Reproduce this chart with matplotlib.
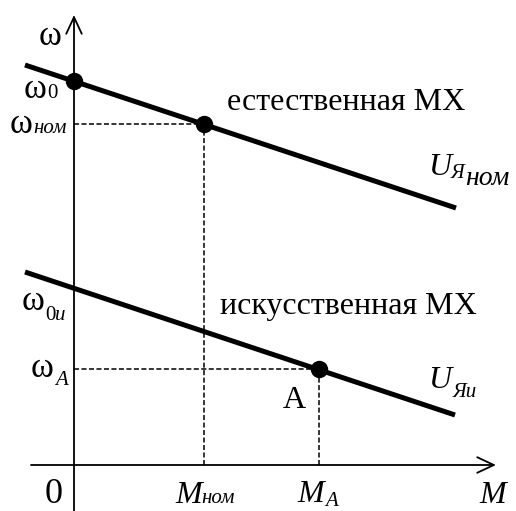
import matplotlib
matplotlib.use("Agg")
import matplotlib.pyplot as plt

# mechanical characteristics of a DC motor (arbitrary units)
M_nat = [-0.49, 3.82]      # natural characteristic, ends
w_nat = [4.00, 2.57]
M_art = [-0.49, 3.81]      # artificial characteristic, ends
w_art = [1.93, 0.50]

w0 = 3.84
w_nom = 3.41
w0u = 1.77
w_A = 0.96
M_nom = 1.30
M_A = 2.45

pt_M = [0.0, M_nom, M_A]
pt_w = [w0, w_nom, w_A]

plt.rcParams['font.family'] = ['Liberation Serif', 'DejaVu Serif']

fig = plt.figure(figsize=(5.16, 5.11), dpi=100)
ax = fig.add_axes([0, 0, 1, 1])
ax.set_xlim(-0.74, 4.42)
ax.set_ylim(-0.46, 4.65)
ax.axis('off')
renderer = fig.canvas.get_renderer()


def px(x, y):
    # pixel position -> data position (for text placement only)
    return (x - 74) / 100, (465 - y) / 100


def put(x, y, pieces):
    # write pieces one after another; y is the baseline in pixels
    for s, dy, size, style in pieces:
        t = ax.text(*px(x, y + dy), s, fontsize=size, fontstyle=style,
                    ha='left', va='baseline')
        x = t.get_window_extent(renderer).x1


# axes with open arrow heads
arrow = dict(arrowstyle='->,head_length=0.6,head_width=0.28', lw=1.3,
             color='black', mutation_scale=20, shrinkA=0, shrinkB=0)
ax.annotate('', xy=(0, 4.50), xytext=(0, -0.46), arrowprops=arrow)
ax.annotate('', xy=(4.22, 0), xytext=(-0.43, 0), arrowprops=arrow)

# dashed guides
dash = dict(color='black', lw=1.1, linestyle=(0, (3.3, 1.6)))
ax.plot([0, M_nom], [w_nom, w_nom], **dash)
ax.plot([M_nom, M_nom], [0, w_nom], **dash)
ax.plot([0, M_A], [w_A, w_A], **dash)
ax.plot([M_A, M_A], [0, w_A], **dash)

# characteristics
ax.plot(M_nat, w_nat, color='black', lw=3.6, solid_capstyle='butt')
ax.plot(M_art, w_art, color='black', lw=3.6, solid_capstyle='butt')
ax.plot(pt_M, pt_w, 'o', color='black', ms=11.5, zorder=5)

BIG, SUB, OM = 23, 15, 25
put(39, 45, [('ω', 0, OM, 'normal')])
put(24, 98, [('ω', 0, OM, 'normal'), ('0', 0, SUB, 'normal')])
put(10, 133, [('ω', 0, OM, 'normal'), ('ном', 0, SUB, 'italic')])
put(227, 110, [('естественная МХ', 0, BIG, 'normal')])
put(428, 175, [('U', 0, BIG, 'italic'), ('Я', 3, SUB, 'italic'),
               ('ном', 10, 20, 'italic')])
put(22, 310, [('ω', 0, OM, 'normal'), ('0', 10, SUB, 'normal'),
              ('u', 10, SUB, 'italic')])
put(220, 314, [('искусственная МХ', 0, BIG, 'normal')])
put(31, 377, [('ω', 0, OM, 'normal'), (' ', 0, 5, 'normal'),
              ('A', 8, SUB, 'italic')])
put(428, 388, [('U', 0, BIG, 'italic'), (' ', 0, 5, 'normal'),
               ('Яu', 9, SUB, 'italic')])
put(283, 408, [('A', 0, BIG, 'normal')])
put(45, 503, [('0', 0, 26, 'normal')])
put(175, 503, [('M', 0, BIG, 'italic'), ('ном', 0, SUB, 'italic')])
put(297, 502, [('M', 0, BIG, 'italic'), (' ', 0, 4, 'normal'),
               ('A', 4, SUB, 'italic')])
put(479, 503, [('M', 0, BIG, 'italic')])

fig.savefig('out.png', dpi=100)
